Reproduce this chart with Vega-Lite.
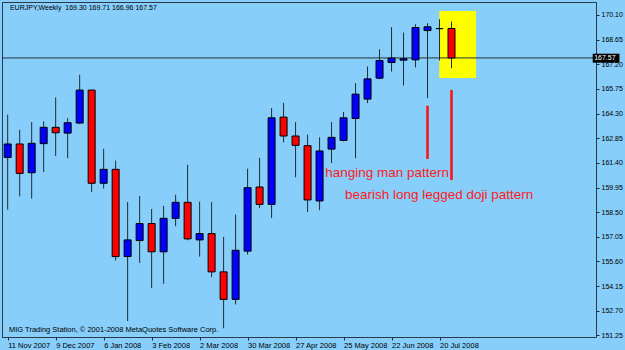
{
  "$schema": "https://vega.github.io/schema/vega-lite/v6.json",
  "width": 594,
  "height": 335,
  "autosize": "none",
  "padding": {"left": 2, "top": 2, "right": 29, "bottom": 13},
  "background": "#87CEFA",
  "config": {
    "view": {"stroke": "#2b3a46", "strokeWidth": 1},
    "font": "Liberation Sans",
    "axisX": {"domain": false, "grid": false, "tickSize": 3, "tickColor": "#1f2b35", "labelColor": "#000000", "labelFontSize": 7.5, "labelAlign": "left", "labelBaseline": "top", "labelPadding": 1, "labelOverlap": false, "labelFlush": false, "labelBound": false},
    "axisY": {"domain": false, "grid": false, "tickSize": 3, "tickColor": "#1f2b35", "labelColor": "#000000", "labelFontSize": 7, "labelPadding": 2, "labelOverlap": false, "labelFlush": false, "labelBound": false}
  },
  "datasets": {
    "candles": [
      {"date": "2007-11-11", "open": 161.72, "high": 164.23, "low": 158.65, "close": 162.51},
      {"date": "2007-11-18", "open": 162.51, "high": 163.35, "low": 159.43, "close": 160.78},
      {"date": "2007-11-25", "open": 160.82, "high": 163.80, "low": 159.30, "close": 162.55},
      {"date": "2007-12-02", "open": 162.53, "high": 163.84, "low": 160.86, "close": 163.49},
      {"date": "2007-12-09", "open": 163.49, "high": 165.25, "low": 161.80, "close": 163.17},
      {"date": "2007-12-16", "open": 163.15, "high": 164.03, "low": 161.67, "close": 163.76},
      {"date": "2007-12-23", "open": 163.74, "high": 166.58, "low": 163.70, "close": 165.68},
      {"date": "2007-12-30", "open": 165.68, "high": 165.70, "low": 159.69, "close": 160.20},
      {"date": "2008-01-06", "open": 160.20, "high": 162.23, "low": 159.89, "close": 161.02},
      {"date": "2008-01-13", "open": 161.02, "high": 161.53, "low": 155.66, "close": 155.89},
      {"date": "2008-01-20", "open": 155.89, "high": 159.10, "low": 152.10, "close": 156.87},
      {"date": "2008-01-27", "open": 156.83, "high": 159.45, "low": 155.52, "close": 157.83},
      {"date": "2008-02-03", "open": 157.83, "high": 158.69, "low": 154.05, "close": 156.17},
      {"date": "2008-02-10", "open": 156.17, "high": 158.87, "low": 154.29, "close": 158.14},
      {"date": "2008-02-17", "open": 158.14, "high": 159.53, "low": 157.67, "close": 159.08},
      {"date": "2008-02-24", "open": 159.08, "high": 161.29, "low": 156.85, "close": 156.93},
      {"date": "2008-03-02", "open": 156.87, "high": 159.12, "low": 155.89, "close": 157.24},
      {"date": "2008-03-09", "open": 157.24, "high": 159.10, "low": 154.68, "close": 154.99},
      {"date": "2008-03-16", "open": 154.99, "high": 157.05, "low": 151.67, "close": 153.37},
      {"date": "2008-03-23", "open": 153.37, "high": 158.36, "low": 153.07, "close": 156.26},
      {"date": "2008-03-30", "open": 156.21, "high": 161.06, "low": 156.01, "close": 159.94},
      {"date": "2008-04-06", "open": 159.98, "high": 161.69, "low": 158.75, "close": 158.96},
      {"date": "2008-04-13", "open": 158.96, "high": 164.62, "low": 158.16, "close": 164.05},
      {"date": "2008-04-20", "open": 164.09, "high": 164.93, "low": 162.60, "close": 162.98},
      {"date": "2008-04-27", "open": 162.98, "high": 163.80, "low": 160.55, "close": 162.43},
      {"date": "2008-05-04", "open": 162.41, "high": 163.06, "low": 158.51, "close": 159.22},
      {"date": "2008-05-11", "open": 159.16, "high": 162.90, "low": 158.61, "close": 162.10},
      {"date": "2008-05-18", "open": 162.21, "high": 163.80, "low": 161.39, "close": 162.90},
      {"date": "2008-05-25", "open": 162.72, "high": 164.39, "low": 162.66, "close": 164.05},
      {"date": "2008-06-01", "open": 164.01, "high": 166.09, "low": 161.67, "close": 165.44},
      {"date": "2008-06-08", "open": 165.15, "high": 167.07, "low": 164.91, "close": 166.34},
      {"date": "2008-06-15", "open": 166.38, "high": 168.08, "low": 166.32, "close": 167.42},
      {"date": "2008-06-22", "open": 167.30, "high": 169.38, "low": 166.77, "close": 167.56},
      {"date": "2008-06-29", "open": 167.44, "high": 169.06, "low": 165.95, "close": 167.52},
      {"date": "2008-07-06", "open": 167.46, "high": 169.55, "low": 167.01, "close": 169.36},
      {"date": "2008-07-13", "open": 169.18, "high": 169.61, "low": 165.21, "close": 169.40},
      {"date": "2008-07-20", "open": 169.30, "high": 169.85, "low": 167.42, "close": 169.29},
      {"date": "2008-07-27", "open": 169.30, "high": 169.71, "low": 166.96, "close": 167.57}
    ],
    "pointers": [
      {"date": "2008-07-13", "from": 161.63, "to": 164.76},
      {"date": "2008-07-27", "from": 160.39, "to": 165.69}
    ],
    "notes": [
      {"date": "2008-05-14T08:00:00Z", "price": 160.59, "label": "hanging man pattern"},
      {"date": "2008-05-25T19:00:00Z", "price": 159.25, "label": "bearish long legged doji pattern"}
    ]
  },
  "layer": [
    {
      "data": {"values": [{}]},
      "mark": {"type": "rect", "color": "#ffff00", "opacity": 1},
      "encoding": {
        "x": {"datum": {"year": 2008, "month": 7, "date": 19, "hours": 21, "utc": true}, "type": "temporal",
              "scale": {"type": "utc", "domain": [{"year": 2007, "month": 11, "date": 10, "hours": 14, "minutes": 24, "utc": true}, {"year": 2008, "month": 10, "date": 16, "hours": 9, "minutes": 36, "utc": true}]},
              "axis": {"values": [{"year": 2007, "month": 11, "date": 11, "utc": true}, {"year": 2007, "month": 12, "date": 9, "utc": true}, {"year": 2008, "month": 1, "date": 6, "utc": true}, {"year": 2008, "month": 2, "date": 3, "utc": true}, {"year": 2008, "month": 3, "date": 2, "utc": true}, {"year": 2008, "month": 3, "date": 30, "utc": true}, {"year": 2008, "month": 4, "date": 27, "utc": true}, {"year": 2008, "month": 5, "date": 25, "utc": true}, {"year": 2008, "month": 6, "date": 22, "utc": true}, {"year": 2008, "month": 7, "date": 20, "utc": true}], "format": "%-d %b %Y", "title": null}},
        "x2": {"datum": {"year": 2008, "month": 8, "date": 10, "hours": 7, "utc": true}},
        "y": {"datum": 170.33, "type": "quantitative", "scale": {"domain": [151.16, 170.86], "zero": false, "nice": false},
              "axis": {"orient": "right", "values": [151.25, 152.7, 154.15, 155.6, 157.05, 158.5, 159.95, 161.4, 162.85, 164.3, 165.75, 167.2, 168.65, 170.1], "format": ".2f", "title": null}},
        "y2": {"datum": 166.39}
      }
    },
    {
      "data": {"values": [{"price": 167.57}]},
      "mark": {"type": "rule", "color": "#26333d", "strokeWidth": 1},
      "encoding": {
        "y": {"field": "price", "type": "quantitative", "scale": {"domain": [151.16, 170.86], "zero": false, "nice": false},
              "axis": {"orient": "right", "values": [151.25, 152.7, 154.15, 155.6, 157.05, 158.5, 159.95, 161.4, 162.85, 164.3, 165.75, 167.2, 168.65, 170.1], "format": ".2f", "title": null}}
      }
    },
    {
      "data": {"name": "candles"},
      "mark": {"type": "rule", "color": "#1f2b35", "strokeWidth": 1},
      "encoding": {
        "x": {"field": "date", "type": "temporal",
              "scale": {"type": "utc", "domain": [{"year": 2007, "month": 11, "date": 10, "hours": 14, "minutes": 24, "utc": true}, {"year": 2008, "month": 10, "date": 16, "hours": 9, "minutes": 36, "utc": true}]},
              "axis": {"values": [{"year": 2007, "month": 11, "date": 11, "utc": true}, {"year": 2007, "month": 12, "date": 9, "utc": true}, {"year": 2008, "month": 1, "date": 6, "utc": true}, {"year": 2008, "month": 2, "date": 3, "utc": true}, {"year": 2008, "month": 3, "date": 2, "utc": true}, {"year": 2008, "month": 3, "date": 30, "utc": true}, {"year": 2008, "month": 4, "date": 27, "utc": true}, {"year": 2008, "month": 5, "date": 25, "utc": true}, {"year": 2008, "month": 6, "date": 22, "utc": true}, {"year": 2008, "month": 7, "date": 20, "utc": true}], "format": "%-d %b %Y", "title": null}},
        "y": {"field": "low", "type": "quantitative", "scale": {"domain": [151.16, 170.86], "zero": false, "nice": false},
              "axis": {"orient": "right", "values": [151.25, 152.7, 154.15, 155.6, 157.05, 158.5, 159.95, 161.4, 162.85, 164.3, 165.75, 167.2, 168.65, 170.1], "format": ".2f", "title": null}},
        "y2": {"field": "high"}
      }
    },
    {
      "data": {"name": "candles"},
      "mark": {"type": "bar", "size": 7, "stroke": "#000000", "strokeWidth": 1, "opacity": 1},
      "encoding": {
        "x": {"field": "date", "type": "temporal",
              "scale": {"type": "utc", "domain": [{"year": 2007, "month": 11, "date": 10, "hours": 14, "minutes": 24, "utc": true}, {"year": 2008, "month": 10, "date": 16, "hours": 9, "minutes": 36, "utc": true}]},
              "axis": {"values": [{"year": 2007, "month": 11, "date": 11, "utc": true}, {"year": 2007, "month": 12, "date": 9, "utc": true}, {"year": 2008, "month": 1, "date": 6, "utc": true}, {"year": 2008, "month": 2, "date": 3, "utc": true}, {"year": 2008, "month": 3, "date": 2, "utc": true}, {"year": 2008, "month": 3, "date": 30, "utc": true}, {"year": 2008, "month": 4, "date": 27, "utc": true}, {"year": 2008, "month": 5, "date": 25, "utc": true}, {"year": 2008, "month": 6, "date": 22, "utc": true}, {"year": 2008, "month": 7, "date": 20, "utc": true}], "format": "%-d %b %Y", "title": null}},
        "y": {"field": "open", "type": "quantitative", "scale": {"domain": [151.16, 170.86], "zero": false, "nice": false},
              "axis": {"orient": "right", "values": [151.25, 152.7, 154.15, 155.6, 157.05, 158.5, 159.95, 161.4, 162.85, 164.3, 165.75, 167.2, 168.65, 170.1], "format": ".2f", "title": null}},
        "y2": {"field": "close"},
        "fill": {"condition": {"test": "datum.close > datum.open", "value": "#0000ff"}, "value": "#ff0000"}
      }
    },
    {
      "data": {"name": "pointers"},
      "mark": {"type": "rule", "color": "#ff1010", "strokeWidth": 2.5},
      "encoding": {
        "x": {"field": "date", "type": "temporal",
              "scale": {"type": "utc", "domain": [{"year": 2007, "month": 11, "date": 10, "hours": 14, "minutes": 24, "utc": true}, {"year": 2008, "month": 10, "date": 16, "hours": 9, "minutes": 36, "utc": true}]},
              "axis": {"values": [{"year": 2007, "month": 11, "date": 11, "utc": true}, {"year": 2007, "month": 12, "date": 9, "utc": true}, {"year": 2008, "month": 1, "date": 6, "utc": true}, {"year": 2008, "month": 2, "date": 3, "utc": true}, {"year": 2008, "month": 3, "date": 2, "utc": true}, {"year": 2008, "month": 3, "date": 30, "utc": true}, {"year": 2008, "month": 4, "date": 27, "utc": true}, {"year": 2008, "month": 5, "date": 25, "utc": true}, {"year": 2008, "month": 6, "date": 22, "utc": true}, {"year": 2008, "month": 7, "date": 20, "utc": true}], "format": "%-d %b %Y", "title": null}},
        "y": {"field": "from", "type": "quantitative", "scale": {"domain": [151.16, 170.86], "zero": false, "nice": false},
              "axis": {"orient": "right", "values": [151.25, 152.7, 154.15, 155.6, 157.05, 158.5, 159.95, 161.4, 162.85, 164.3, 165.75, 167.2, 168.65, 170.1], "format": ".2f", "title": null}},
        "y2": {"field": "to"}
      }
    },
    {
      "data": {"name": "notes"},
      "mark": {"type": "text", "align": "left", "baseline": "alphabetic", "fontSize": 13.5, "color": "#ff1a1a"},
      "encoding": {
        "x": {"field": "date", "type": "temporal",
              "scale": {"type": "utc", "domain": [{"year": 2007, "month": 11, "date": 10, "hours": 14, "minutes": 24, "utc": true}, {"year": 2008, "month": 10, "date": 16, "hours": 9, "minutes": 36, "utc": true}]},
              "axis": {"values": [{"year": 2007, "month": 11, "date": 11, "utc": true}, {"year": 2007, "month": 12, "date": 9, "utc": true}, {"year": 2008, "month": 1, "date": 6, "utc": true}, {"year": 2008, "month": 2, "date": 3, "utc": true}, {"year": 2008, "month": 3, "date": 2, "utc": true}, {"year": 2008, "month": 3, "date": 30, "utc": true}, {"year": 2008, "month": 4, "date": 27, "utc": true}, {"year": 2008, "month": 5, "date": 25, "utc": true}, {"year": 2008, "month": 6, "date": 22, "utc": true}, {"year": 2008, "month": 7, "date": 20, "utc": true}], "format": "%-d %b %Y", "title": null}},
        "y": {"field": "price", "type": "quantitative", "scale": {"domain": [151.16, 170.86], "zero": false, "nice": false},
              "axis": {"orient": "right", "values": [151.25, 152.7, 154.15, 155.6, 157.05, 158.5, 159.95, 161.4, 162.85, 164.3, 165.75, 167.2, 168.65, 170.1], "format": ".2f", "title": null}},
        "text": {"field": "label"}
      }
    },
    {
      "data": {"values": [{"label": "EURJPY,Weekly\u00a0\u00a0169.30 169.71 166.96 167.57"}]},
      "mark": {"type": "text", "align": "left", "baseline": "alphabetic", "fontSize": 7, "color": "#000000"},
      "encoding": {
        "x": {"datum": {"year": 2007, "month": 11, "date": 12, "hours": 7, "minutes": 40, "utc": true}, "type": "temporal",
              "scale": {"type": "utc", "domain": [{"year": 2007, "month": 11, "date": 10, "hours": 14, "minutes": 24, "utc": true}, {"year": 2008, "month": 10, "date": 16, "hours": 9, "minutes": 36, "utc": true}]},
              "axis": {"values": [{"year": 2007, "month": 11, "date": 11, "utc": true}, {"year": 2007, "month": 12, "date": 9, "utc": true}, {"year": 2008, "month": 1, "date": 6, "utc": true}, {"year": 2008, "month": 2, "date": 3, "utc": true}, {"year": 2008, "month": 3, "date": 2, "utc": true}, {"year": 2008, "month": 3, "date": 30, "utc": true}, {"year": 2008, "month": 4, "date": 27, "utc": true}, {"year": 2008, "month": 5, "date": 25, "utc": true}, {"year": 2008, "month": 6, "date": 22, "utc": true}, {"year": 2008, "month": 7, "date": 20, "utc": true}], "format": "%-d %b %Y", "title": null}},
        "y": {"datum": 170.37, "type": "quantitative", "scale": {"domain": [151.16, 170.86], "zero": false, "nice": false},
              "axis": {"orient": "right", "values": [151.25, 152.7, 154.15, 155.6, 157.05, 158.5, 159.95, 161.4, 162.85, 164.3, 165.75, 167.2, 168.65, 170.1], "format": ".2f", "title": null}},
        "text": {"field": "label"}
      }
    },
    {
      "data": {"values": [{"label": "MIG Trading Station, © 2001-2008 MetaQuotes Software Corp."}]},
      "mark": {"type": "text", "align": "left", "baseline": "alphabetic", "fontSize": 7.5, "color": "#000000"},
      "encoding": {
        "x": {"datum": {"year": 2007, "month": 11, "date": 11, "hours": 18, "utc": true}, "type": "temporal",
              "scale": {"type": "utc", "domain": [{"year": 2007, "month": 11, "date": 10, "hours": 14, "minutes": 24, "utc": true}, {"year": 2008, "month": 10, "date": 16, "hours": 9, "minutes": 36, "utc": true}]},
              "axis": {"values": [{"year": 2007, "month": 11, "date": 11, "utc": true}, {"year": 2007, "month": 12, "date": 9, "utc": true}, {"year": 2008, "month": 1, "date": 6, "utc": true}, {"year": 2008, "month": 2, "date": 3, "utc": true}, {"year": 2008, "month": 3, "date": 2, "utc": true}, {"year": 2008, "month": 3, "date": 30, "utc": true}, {"year": 2008, "month": 4, "date": 27, "utc": true}, {"year": 2008, "month": 5, "date": 25, "utc": true}, {"year": 2008, "month": 6, "date": 22, "utc": true}, {"year": 2008, "month": 7, "date": 20, "utc": true}], "format": "%-d %b %Y", "title": null}},
        "y": {"datum": 151.43, "type": "quantitative", "scale": {"domain": [151.16, 170.86], "zero": false, "nice": false},
              "axis": {"orient": "right", "values": [151.25, 152.7, 154.15, 155.6, 157.05, 158.5, 159.95, 161.4, 162.85, 164.3, 165.75, 167.2, 168.65, 170.1], "format": ".2f", "title": null}},
        "text": {"field": "label"}
      }
    },
    {
      "data": {"values": [{}]},
      "mark": {"type": "rect", "color": "#000000", "opacity": 1},
      "encoding": {
        "x": {"datum": {"year": 2008, "month": 10, "date": 17, "hours": 9, "minutes": 36, "utc": true}, "type": "temporal",
              "scale": {"type": "utc", "domain": [{"year": 2007, "month": 11, "date": 10, "hours": 14, "minutes": 24, "utc": true}, {"year": 2008, "month": 10, "date": 16, "hours": 9, "minutes": 36, "utc": true}]},
              "axis": {"values": [{"year": 2007, "month": 11, "date": 11, "utc": true}, {"year": 2007, "month": 12, "date": 9, "utc": true}, {"year": 2008, "month": 1, "date": 6, "utc": true}, {"year": 2008, "month": 2, "date": 3, "utc": true}, {"year": 2008, "month": 3, "date": 2, "utc": true}, {"year": 2008, "month": 3, "date": 30, "utc": true}, {"year": 2008, "month": 4, "date": 27, "utc": true}, {"year": 2008, "month": 5, "date": 25, "utc": true}, {"year": 2008, "month": 6, "date": 22, "utc": true}, {"year": 2008, "month": 7, "date": 20, "utc": true}], "format": "%-d %b %Y", "title": null}},
        "x2": {"datum": {"year": 2008, "month": 11, "date": 2, "utc": true}},
        "y": {"datum": 167.82, "type": "quantitative", "scale": {"domain": [151.16, 170.86], "zero": false, "nice": false},
              "axis": {"orient": "right", "values": [151.25, 152.7, 154.15, 155.6, 157.05, 158.5, 159.95, 161.4, 162.85, 164.3, 165.75, 167.2, 168.65, 170.1], "format": ".2f", "title": null}},
        "y2": {"datum": 167.29}
      }
    },
    {
      "data": {"values": [{"price": 167.57}]},
      "mark": {"type": "text", "align": "center", "baseline": "middle", "fontSize": 7, "color": "#ffffff"},
      "encoding": {
        "x": {"datum": {"year": 2008, "month": 10, "date": 24, "hours": 12, "utc": true}, "type": "temporal",
              "scale": {"type": "utc", "domain": [{"year": 2007, "month": 11, "date": 10, "hours": 14, "minutes": 24, "utc": true}, {"year": 2008, "month": 10, "date": 16, "hours": 9, "minutes": 36, "utc": true}]},
              "axis": {"values": [{"year": 2007, "month": 11, "date": 11, "utc": true}, {"year": 2007, "month": 12, "date": 9, "utc": true}, {"year": 2008, "month": 1, "date": 6, "utc": true}, {"year": 2008, "month": 2, "date": 3, "utc": true}, {"year": 2008, "month": 3, "date": 2, "utc": true}, {"year": 2008, "month": 3, "date": 30, "utc": true}, {"year": 2008, "month": 4, "date": 27, "utc": true}, {"year": 2008, "month": 5, "date": 25, "utc": true}, {"year": 2008, "month": 6, "date": 22, "utc": true}, {"year": 2008, "month": 7, "date": 20, "utc": true}], "format": "%-d %b %Y", "title": null}},
        "y": {"field": "price", "type": "quantitative", "scale": {"domain": [151.16, 170.86], "zero": false, "nice": false},
              "axis": {"orient": "right", "values": [151.25, 152.7, 154.15, 155.6, 157.05, 158.5, 159.95, 161.4, 162.85, 164.3, 165.75, 167.2, 168.65, 170.1], "format": ".2f", "title": null}},
        "text": {"field": "price", "format": ".2f"}
      }
    }
  ]
}
